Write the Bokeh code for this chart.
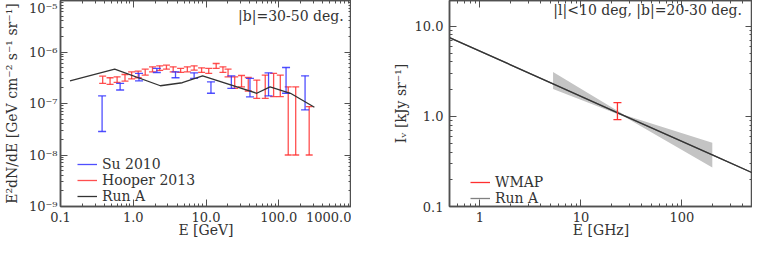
from bokeh.plotting import figure
from bokeh.layouts import row
from bokeh.models import (FixedTicker, CustomJSTickFormatter, LogAxis, Legend,
                          LegendItem, Label)
from bokeh.embed import file_html
from bokeh.resources import INLINE

# ---------------- Left panel data: |b| = 30-50 deg ----------------
runA_E = [0.135, 0.556, 2.36, 4.72, 8.98, 49.8, 76, 145, 309]
runA_flux = [2.76e-7, 4.65e-7, 2.21e-7, 2.53e-7, 3.45e-7, 1.58e-7, 2.11e-7, 1.58e-7, 8.45e-8]

su_E = [0.373, 0.66, 1.2, 2.11, 3.81, 6.87, 11.7, 22.3, 40.2, 72.4, 126, 230]
su_hi = [1.4e-7, 2.46e-7, 3.84e-7, 4.8e-7, 4.12e-7, 3.95e-7, 2.64e-7, 3.45e-7, 3.07e-7, 3.95e-7, 5.0e-7, 3.45e-7]
su_lo = [2.86e-8, 1.83e-7, 2.76e-7, 4.0e-7, 3.16e-7, 3.08e-7, 1.58e-7, 1.97e-7, 1.35e-7, 1.40e-7, 1.58e-7, 7.5e-8]

hooper_E = [0.38, 0.48, 0.60, 0.77, 0.95, 1.17, 1.46, 1.84, 2.31, 2.86, 3.54, 4.48,
            5.54, 6.87, 8.7, 10.9, 13.8, 17.1, 20.1, 24.8, 30.8, 38.1, 49.9, 65.2,
            85, 105, 135, 171, 262]
hooper_hi = [3.40e-7, 3.16e-7, 3.30e-7, 3.66e-7, 4.1e-7, 4.25e-7, 4.65e-7, 5.15e-7,
             5.39e-7, 5.55e-7, 5.15e-7, 4.79e-7, 5.15e-7, 5.39e-7, 4.93e-7, 4.79e-7,
             5.98e-7, 5.15e-7, 4.65e-7, 3.30e-7, 3.5e-7, 3.2e-7, 2.85e-7, 3.56e-7,
             3.84e-7, 3.56e-7, 2.1e-7, 2.1e-7, 8.7e-8]
hooper_lo = [2.46e-7, 2.35e-7, 2.57e-7, 2.72e-7, 3.0e-7, 3.16e-7, 3.56e-7, 4.13e-7,
             4.38e-7, 4.65e-7, 4.13e-7, 4.01e-7, 4.13e-7, 4.45e-7, 4.01e-7, 3.83e-7,
             4.79e-7, 4.01e-7, 3.30e-7, 1.97e-7, 2.1e-7, 1.75e-7, 1.26e-7, 1.26e-7,
             1.36e-7, 1.36e-7, 1.0e-8, 1.0e-8, 1.0e-8]

left_xticks = [0.1, 1, 10, 100, 1000]
left_yticks = [1e-9, 1e-8, 1e-7, 1e-6, 1e-5]

# ---------------- Right panel data: |l|<10, |b|=20-30 deg ----------------
runA_freq = [0.5, 5.3, 27, 200, 500]
runA_I = [7.46, 2.29, 1.01, 0.373, 0.236]

band_freq = [5.3, 27, 200]
band_hi = [3.1, 1.03, 0.51]
band_lo = [2.0, 0.99, 0.27]

wmap_freq = [23]
wmap_hi = [1.42]
wmap_lo = [0.92]

right_xticks = [1, 10, 100]
right_yticks = [0.1, 1, 10]

FONT = "DejaVu Serif"
AX = "#505050"
TXT = "#333333"
RED = "#ff3030"
BLUE = "#3030ff"
DARK = "#333333"


def minor_list(lo_exp, hi_exp):
    return [m * 10.0 ** k for k in range(lo_exp, hi_exp) for m in range(2, 10)]


def style_axis(ax, ticks, minors, fmt_code, label=None, standoff=4, label_standoff=0):
    show = fmt_code is not None
    ax.ticker = FixedTicker(ticks=ticks, minor_ticks=minors)
    ax.formatter = CustomJSTickFormatter(code=fmt_code if show else "return '';")
    ax.axis_label = label
    ax.major_tick_in = 7
    ax.major_tick_out = 0
    ax.minor_tick_in = 3
    ax.minor_tick_out = 0
    ax.axis_line_color = AX
    ax.axis_line_width = 1.5
    ax.major_tick_line_color = AX
    ax.minor_tick_line_color = AX
    ax.major_label_text_font = FONT
    ax.major_label_text_font_size = "13px" if show else "0px"
    ax.major_label_text_line_height = 1.0
    ax.major_label_text_color = TXT
    ax.major_label_standoff = standoff
    ax.axis_label_standoff = label_standoff
    ax.axis_label_text_font = FONT
    ax.axis_label_text_font_size = "14px"
    ax.axis_label_text_font_style = "normal"
    ax.axis_label_text_line_height = 1.0
    ax.axis_label_text_color = TXT


sup_code = """
const sup = {'-':'\u207b','0':'\u2070','1':'\u00b9','2':'\u00b2','3':'\u00b3','4':'\u2074','5':'\u2075','6':'\u2076','7':'\u2077','8':'\u2078','9':'\u2079'};
const e = Math.round(Math.log10(tick));
return '10' + String(e).split('').map(c => sup[c]).join('');
"""
fix1 = "return tick.toFixed(1);"
fix0 = "return tick.toFixed(0);"


def legend_style(leg, spacing):
    leg.background_fill_alpha = 0
    leg.border_line_alpha = 0
    leg.label_text_font = FONT
    leg.label_text_font_size = "14px"
    leg.label_text_line_height = 1.0
    leg.label_text_color = TXT
    leg.glyph_width = 20
    leg.label_height = 10
    leg.glyph_height = 10
    leg.spacing = spacing
    leg.padding = 4
    leg.margin = 0


# ---------------- Left figure ----------------
p1 = figure(width=351, height=240, x_axis_type="log", y_axis_type="log",
            x_range=(0.1, 1000), y_range=(1e-9, 1e-5),
            output_backend="svg", toolbar_location=None, min_border=0)
p1.grid.visible = False
p1.outline_line_color = AX
p1.outline_line_width = 1.5

lx_minor = minor_list(-1, 3)
ly_minor = minor_list(-9, -5)
style_axis(p1.xaxis[0], left_xticks, lx_minor, fix1, label="E [GeV]", standoff=5, label_standoff=-3)
style_axis(p1.yaxis[0], left_yticks, ly_minor, sup_code,
           label="E\u00b2dN/dE [GeV cm\u207b\u00b2 s\u207b\u00b9 sr\u207b\u00b9]",
           standoff=3, label_standoff=6)
top1 = LogAxis()
style_axis(top1, left_xticks, lx_minor, None, standoff=0)
p1.add_layout(top1, "above")
right1 = LogAxis()
style_axis(right1, left_yticks, ly_minor, None, standoff=0)
p1.add_layout(right1, "right")

r_hoop = p1.segment(x0=hooper_E, y0=hooper_lo, x1=hooper_E, y1=hooper_hi,
                    line_color=RED, line_width=1.3, line_alpha=0.85)
p1.scatter(hooper_E, hooper_hi, marker="dash", size=7, line_color=RED, line_width=1.3, line_alpha=0.85)
p1.scatter(hooper_E, hooper_lo, marker="dash", size=7, line_color=RED, line_width=1.3, line_alpha=0.85)

r_su = p1.segment(x0=su_E, y0=su_lo, x1=su_E, y1=su_hi,
                  line_color=BLUE, line_width=1.3, line_alpha=0.85)
p1.scatter(su_E, su_hi, marker="dash", size=8, line_color=BLUE, line_width=1.3, line_alpha=0.85)
p1.scatter(su_E, su_lo, marker="dash", size=8, line_color=BLUE, line_width=1.3, line_alpha=0.85)

r_run1 = p1.line(runA_E, runA_flux, line_color=DARK, line_width=1.3)

leg1 = Legend(items=[LegendItem(label="Su 2010", renderers=[r_su]),
                     LegendItem(label="Hooper 2013", renderers=[r_hoop]),
                     LegendItem(label="Run A", renderers=[r_run1])],
              location=(13, -2))
legend_style(leg1, -2)
p1.add_layout(leg1)

p1.add_layout(Label(x=780, y=5.1e-6, text="|b|=30-50 deg.", text_font=FONT,
                    text_font_size="14px", text_align="right", text_baseline="middle",
                    text_color=TXT))

# ---------------- Right figure ----------------
p2 = figure(width=363, height=240, x_axis_type="log", y_axis_type="log",
            x_range=(0.5, 500), y_range=(0.1, 19.2),
            output_backend="svg", toolbar_location=None, min_border=0)
p2.grid.visible = False
p2.outline_line_color = AX
p2.outline_line_width = 1.5

rx_minor = minor_list(-1, 3)
ry_minor = minor_list(-1, 2)
style_axis(p2.xaxis[0], right_xticks, rx_minor, fix0, label="E [GHz]", standoff=5, label_standoff=-3)
style_axis(p2.yaxis[0], right_yticks, ry_minor, fix1, label="I\u1d65 [kJy sr\u207b\u00b9]",
           standoff=6, label_standoff=3)
top2 = LogAxis()
style_axis(top2, right_xticks, rx_minor, None, standoff=0)
p2.add_layout(top2, "above")
right2 = LogAxis()
style_axis(right2, right_yticks, ry_minor, None, standoff=5)
p2.add_layout(right2, "right")

p2.varea(x=band_freq, y1=band_lo, y2=band_hi, fill_color="#c4c4c4", fill_alpha=1.0)
r_run2_leg = p2.line(runA_freq, runA_I, line_color="#808080", line_width=1.3)
r_run2 = p2.line(runA_freq, runA_I, line_color=DARK, line_width=1.3)
r_wmap = p2.segment(x0=wmap_freq, y0=wmap_lo, x1=wmap_freq, y1=wmap_hi,
                    line_color=RED, line_width=1.3)
p2.scatter(wmap_freq, wmap_hi, marker="dash", size=8, line_color=RED, line_width=1.3)
p2.scatter(wmap_freq, wmap_lo, marker="dash", size=8, line_color=RED, line_width=1.3)

leg2 = Legend(items=[LegendItem(label="WMAP", renderers=[r_wmap]),
                     LegendItem(label="Run A", renderers=[r_run2_leg])],
              location=(17, -4))
legend_style(leg2, -5)
p2.add_layout(leg2)

p2.add_layout(Label(x=393, y=14.9, text="|l|<10 deg, |b|=20-30 deg.", text_font=FONT,
                    text_font_size="14px", text_align="right", text_baseline="middle",
                    text_color=TXT))

layout = row(p1, p2, spacing=38)
open("out.html", "w").write(file_html(layout, INLINE))
